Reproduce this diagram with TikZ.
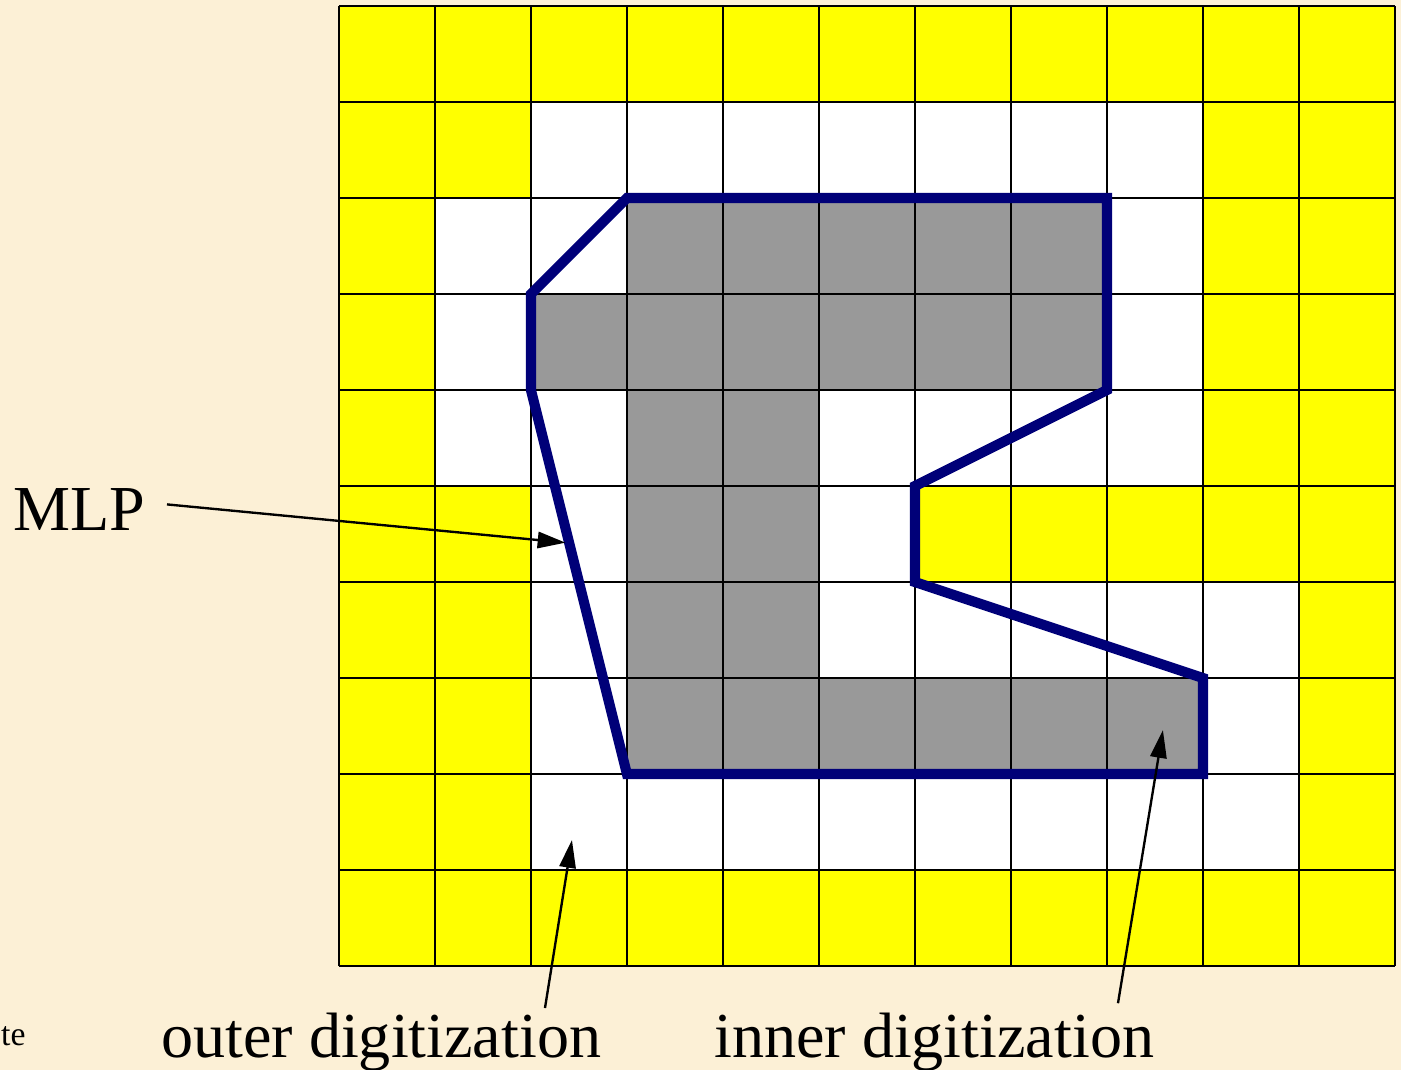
\documentclass[tikz,border=0pt]{standalone}
\usepackage{fontspec}
\setmainfont{Liberation Serif}
\usetikzlibrary{arrows.meta,positioning}
\definecolor{parchment}{RGB}{252,240,214}
\definecolor{lemon}{RGB}{255,255,0}
\definecolor{slate}{RGB}{153,153,153}
\definecolor{navy}{RGB}{0,0,120}
\tikzset{
  >={Triangle[length=2.9mm,width=1.7mm]},
  gridline/.style={draw=black,line width=0.6pt},
  outline/.style={draw=navy,line width=3pt},
  callout/.style={->,draw=black,line width=0.7pt},
  tag/.style={font=\fontsize{19}{21}\selectfont,inner sep=0pt},
  smalltag/.style={font=\fontsize{10}{12}\selectfont,inner sep=0pt},
}

\begin{document}
\begin{tikzpicture}
    % page and its margins
    \fill[parchment] (-3.531,-1.083) rectangle (11.063,10.063);
    \useasboundingbox (-3.531,-1.083) rectangle (11.063,10.063);
    % the raster: yellow outside, white ring, gray object
    \fill[lemon] (0,0) rectangle (11,10);
    \foreach \y/\a/\b in {8/2/9,7/1/9,6/1/9,5/1/9,4/2/6,3/2/10,2/2/10,1/2/10}
      \fill[white] (\a,\y) rectangle (\b,\y+1);
    \foreach \y/\a/\b in {7/3/8,6/2/8,5/3/5,4/3/5,3/3/5,2/3/9}
      \fill[slate] (\a,\y) rectangle (\b,\y+1);
    \draw[gridline] (0,0) grid (11,10);
    % minimum length polygon
    \draw[outline] (3,8) -- (8,8) -- (8,6) -- (6,5) -- (6,4) -- (9,3)
      -- (9,2) -- (3,2) -- (2,6) -- (2,7) -- cycle;
    % labels
    \node[tag,anchor=base] (mlplbl) at (-2.705,4.54) {MLP};
    \node[tag,anchor=base] (outerlbl) at (0.44,-0.948) {outer digitization};
    \node[tag,anchor=base] (innerlbl) at (6.2,-0.948) {inner digitization};
    \node[smalltag,anchor=base west] (cutlbl) at (-3.525,-0.823) {te};
    \coordinate (mlptip) at (2.36,4.41);
    \coordinate (outertip) at (2.427,1.313);
    \coordinate (innertip) at (8.583,2.458);
    \draw[callout] ([shift={(0.22,0.05)}]mlplbl.east) -- (mlptip);
    \draw[callout] ([shift={(1.706,0.04)}]outerlbl.north) -- (outertip);
    \draw[callout] ([shift={(1.915,0.09)}]innerlbl.north) -- (innertip);
\end{tikzpicture}
\end{document}
